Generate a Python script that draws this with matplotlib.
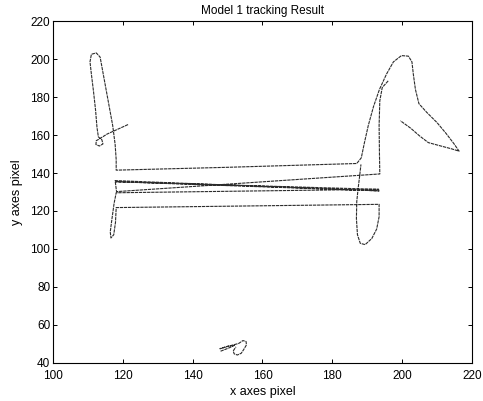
import numpy as np
import matplotlib.pyplot as plt

plt.rcParams['font.family'] = ['Liberation Sans', 'DejaVu Sans']

# track 1: left loop, top crossing, right peak and return
track1_x = [121.5, 118.5, 115.5, 113.6, 112.4, 112.3, 113.3, 114.3, 114.0, 113.0,
            112.6, 112.2, 111.6, 111.0, 110.6, 111.0, 112.4, 113.5, 114.2, 115.1,
            116.1, 117.1, 117.8, 118.1, 118.1, 150.0, 187.0, 188.3, 189.2, 190.3,
            191.8, 193.5, 195.5, 197.5, 199.8, 201.8, 202.8, 203.2, 203.8, 204.8,
            207.0, 210.0, 212.5, 214.8, 216.3, 214.0, 210.5, 207.5, 205.0, 202.5,
            199.5]
track1_y = [165.5, 163.0, 160.5, 158.3, 157.0, 155.0, 154.2, 155.3, 157.5, 159.0,
            164.0, 173.0, 183.0, 192.0, 198.5, 202.5, 203.2, 201.0, 194.0, 185.0,
            175.0, 165.0, 155.0, 147.0, 141.5, 143.0, 145.0, 148.0, 156.0, 165.0,
            175.0, 184.0, 192.0, 198.5, 201.8, 201.5, 198.5, 192.0, 184.0, 176.5,
            172.0, 166.5, 161.0, 155.5, 151.5, 152.8, 154.5, 156.0, 159.5, 163.5,
            167.5]

# track 2: back-and-forth crossings and the lower right loop
track2_x = [196.0, 194.3, 193.6, 193.4, 193.5, 193.6, 118.2, 117.8, 193.4, 118.0,
            193.3, 118.1, 117.5, 116.9, 116.4, 116.6, 117.4, 117.9, 118.1, 193.4,
            193.4, 192.7, 191.3, 189.4, 188.0, 187.2, 186.9, 187.0, 187.4, 187.8,
            188.2]
track2_y = [188.5, 185.0, 178.0, 165.0, 150.0, 139.5, 130.2, 136.0, 130.6, 135.4,
            131.4, 129.6, 124.0, 116.0, 109.0, 105.8, 107.5, 114.0, 121.8, 123.5,
            117.0, 110.5, 105.5, 102.3, 103.0, 107.5, 116.0, 125.0, 132.0, 138.0,
            144.5]

# track 3: short track near the bottom
track3_x = [148.0, 150.5, 152.0, 150.0, 147.8, 151.0, 153.2, 154.4, 155.3, 155.4,
            154.6, 153.9, 152.8, 151.9, 151.6, 152.4]
track3_y = [46.2, 48.0, 49.3, 48.8, 47.5, 49.2, 50.3, 51.8, 51.3, 49.5,
            47.0, 45.1, 44.2, 44.8, 46.3, 48.5]

fig = plt.figure(figsize=(4.83, 4.01), dpi=100)
ax = fig.add_axes([0.1097, 0.0948, 0.8675, 0.8528])

for tx, ty in [(track1_x, track1_y), (track2_x, track2_y), (track3_x, track3_y)]:
    ax.plot(tx, ty, color='#2b2b2b', lw=0.8, linestyle=(0, (3, 0.7)))

ax.set_xlim(100, 220)
ax.set_ylim(40, 220)
ax.set_xticks(np.arange(100, 221, 20))
ax.set_yticks(np.arange(40, 221, 20))
ax.tick_params(direction='in', top=True, right=True, length=3, width=0.7,
               labelsize=8.5)
ax.tick_params(axis='x', pad=5)
ax.tick_params(axis='y', pad=2)
for s in ax.spines.values():
    s.set_linewidth(0.8)

ax.set_title('Model 1 tracking Result', fontsize=8.5, pad=5)
ax.set_xlabel('x axes pixel', fontsize=9, labelpad=3)
ax.set_ylabel('y axes pixel', fontsize=9, labelpad=5)

fig.savefig('out.png', dpi=100)
